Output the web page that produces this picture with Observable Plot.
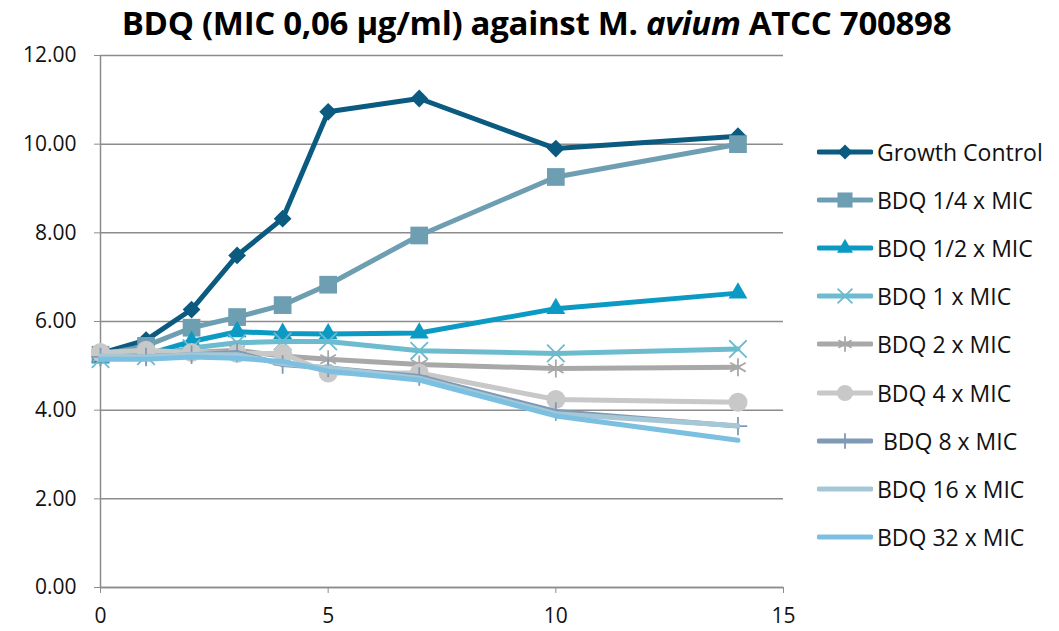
<!DOCTYPE html>
<html>
<head>
<meta charset="utf-8">
<script src="https://cdn.jsdelivr.net/npm/d3@7"></script>
<script src="https://cdn.jsdelivr.net/npm/@observablehq/plot@0.6"></script>
<style>
  html, body { margin: 0; padding: 0; background: #fff; }
  #wrap { position: relative; width: 1059px; height: 631px; overflow: hidden; font-family: "Open Sans", sans-serif; }
  #title { position: absolute; left: 0; top: 0; width: 1059px; height: 46px; line-height: 46px; text-align: center; font-weight: bold; font-size: 33px; color: #000; box-sizing: border-box; padding-left: 14px; letter-spacing: -0.3px; white-space: nowrap; }
  #legend { position: absolute; left: 817px; top: 128px; }
  .entry { display: flex; align-items: center; height: 48.1px; }
  .entry span { font-size: 23px; line-height: 32px; color: #111; margin-left: 4px; white-space: pre; }
</style>
</head>
<body>
<div id="wrap">
  <div id="chart"></div>
  <div id="title">BDQ (MIC 0,06 µg/ml) against M. <i>avium</i> ATCC 700898</div>
  <div id="legend"></div>
</div>
<script>
const days = [0, 1, 2, 3, 4, 5, 7, 10, 14];
const seriesNames = ["Growth Control", "BDQ 1/4 x MIC", "BDQ 1/2 x MIC", "BDQ 1 x MIC", "BDQ 2 x MIC", "BDQ 4 x MIC", " BDQ 8 x MIC", "BDQ 16 x MIC", "BDQ 32 x MIC"];
const growthControl = [5.28, 5.58, 6.27, 7.49, 8.32, 10.73, 11.03, 9.90, 10.18];
const bdqQuarter    = [5.25, 5.45, 5.86, 6.10, 6.37, 6.83, 7.94, 9.26, 10.00];
const bdqHalf       = [5.20, 5.25, 5.55, 5.77, 5.73, 5.72, 5.74, 6.29, 6.64];
const bdq1          = [5.15, 5.22, 5.40, 5.52, 5.55, 5.55, 5.34, 5.28, 5.38];
const bdq2          = [5.20, 5.25, 5.30, 5.35, 5.22, 5.15, 5.03, 4.94, 4.97];
const bdq4          = [5.30, 5.35, 5.30, 5.28, 5.28, 4.84, 4.84, 4.24, 4.18];
const bdq8          = [5.20, 5.20, 5.25, 5.30, 5.03, 4.95, 4.76, 3.97, 3.64];
const bdq16         = [5.22, 5.20, 5.25, 5.25, 5.05, 4.95, 4.72, 3.92, 3.65];
const bdq32         = [5.15, 5.15, 5.20, 5.17, 5.10, 4.88, 4.68, 3.87, 3.32];
const yTicks = [0, 2, 4, 6, 8, 10, 12];
const xTicks = [0, 5, 10, 15];

const allValues = [growthControl, bdqQuarter, bdqHalf, bdq1, bdq2, bdq4, bdq8, bdq16, bdq32];
const colors = ["#0B5A80", "#6E9EB2", "#0A9AC4", "#6CBBCF", "#A8A8A8", "#C8C8C8", "#7F9AB5", "#A5C7D6", "#7CC0E1"];
const symbols = ["diamond2", "square", "triangle2", "times", "asterisk", "circle", "plus", null, null];
const radii = [8, 10, 9, 8, 8.5, 9.5, 6, 0, 0];
const filled = [true, true, true, false, false, true, false, false, false];

const rows = [];
seriesNames.forEach((name, i) => {
  days.forEach((d, j) => rows.push({series: name, idx: i, day: d, value: allValues[i][j]}));
});

const marks = [
  Plot.gridY(yTicks, {stroke: "#8C8C8C", strokeOpacity: 1, strokeWidth: 1.5}),
  Plot.ruleX([0], {stroke: "#8C8C8C", strokeWidth: 1.5}),
  Plot.ruleY([0], {stroke: "#8C8C8C", strokeWidth: 1.5}),
  Plot.axisY(yTicks, {tickFormat: d => d.toFixed(2), tickSize: 6, tickPadding: 18, stroke: "#8C8C8C", fontSize: 21, fill: "#111", label: null}),
  Plot.axisX(xTicks, {tickSize: 6, tickPadding: 15, stroke: "#8C8C8C", fontSize: 21, fill: "#111", label: null})
];
seriesNames.forEach((name, i) => {
  const data = rows.filter(r => r.idx === i);
  marks.push(Plot.line(data, {x: "day", y: "value", stroke: colors[i], strokeWidth: 5, strokeLinejoin: "round"}));
  if (symbols[i]) {
    marks.push(Plot.dot(data, filled[i]
      ? {x: "day", y: "value", symbol: () => symbols[i], r: radii[i], fill: colors[i], stroke: "none"}
      : {x: "day", y: "value", symbol: () => symbols[i], r: radii[i], stroke: colors[i], strokeWidth: 1.8, fill: "none"}));
  }
});

const chart = Plot.plot({
  width: 1059,
  height: 631,
  marginLeft: 100,
  marginRight: 276,
  marginTop: 55,
  marginBottom: 44,
  style: {fontFamily: "'Open Sans', sans-serif", background: "white"},
  x: {domain: [0, 15], label: null},
  y: {domain: [0, 12], label: null},
  symbol: {type: "identity"},
  marks
});
document.getElementById("chart").appendChild(chart);

// Legend
const legend = d3.select("#legend");
const symMap = {diamond2: d3.symbolDiamond2, square: d3.symbolSquare, triangle2: d3.symbolTriangle2, times: d3.symbolTimes, asterisk: d3.symbolAsterisk, circle: d3.symbolCircle, plus: d3.symbolPlus};
seriesNames.forEach((name, i) => {
  const e = legend.append("div").attr("class", "entry");
  const svg = e.append("svg").attr("width", 56).attr("height", 24);
  svg.append("line").attr("x1", 2).attr("x2", 54).attr("y1", 12).attr("y2", 12)
    .attr("stroke", colors[i]).attr("stroke-width", 5).attr("stroke-linecap", "round");
  if (symbols[i]) {
    const r = radii[i] * 0.85;
    const p = d3.symbol(symMap[symbols[i]], Math.PI * r * r)();
    svg.append("path").attr("d", p).attr("transform", "translate(28,12)")
      .attr("fill", filled[i] ? colors[i] : "none")
      .attr("stroke", filled[i] ? "none" : colors[i]).attr("stroke-width", 1.8);
  }
  e.append("span").text(name);
});
</script>
</body>
</html>
